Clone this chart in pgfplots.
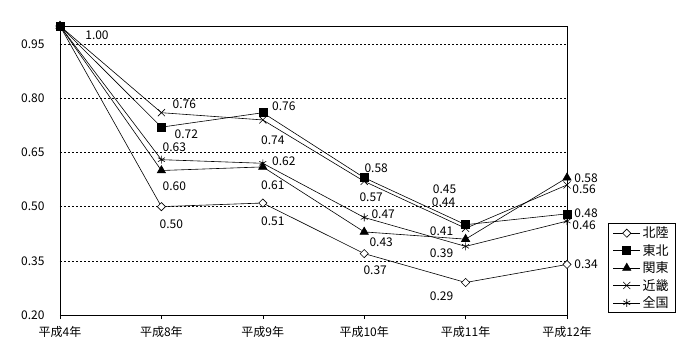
\documentclass[border=0pt]{standalone}
\usepackage{fontspec}
\setmainfont{Noto Sans CJK JP}
\usepackage{pgfplots}
\pgfplotsset{compat=1.18}
\newcommand{\lbl}[5]{\node[inner sep=0pt] at (axis cs:#1,#2) [xshift=#3pt,yshift=#4pt] {#5};}
\begin{document}
\begin{tikzpicture}[x=1pt,y=1pt,font=\fontsize{12pt}{14pt}\selectfont]
\useasboundingbox (-60,-45) rectangle (640,315);
\begin{axis}[
 scale only axis, width=507pt, height=289pt,
 at={(0,0)}, anchor=south west, clip=false,
 xmin=0, xmax=5, ymin=0.2, ymax=1.0,
 xtick={0,...,5},
 xticklabels={平成4年,平成8年,平成9年,平成10年,平成11年,平成12年},
 ytick={0.2,0.35,0.5,0.65,0.8,0.95},
 yticklabel style={/pgf/number format/fixed, /pgf/number format/fixed zerofill, /pgf/number format/precision=2, xshift=-8pt},
 /pgf/number format/assume math mode=true,
 ytick style={draw=none},
 xtick pos=bottom, ytick pos=left,
 tick align=outside, major tick length=4pt,
 xtick style={black, line width=0.6pt},
 ymajorgrids, grid style={black, dash pattern=on 2pt off 2pt, line width=0.6pt},
 axis line style={black, line width=0.8pt},
 xticklabel style={yshift=-4pt},
 every axis plot/.append style={black, line width=0.6pt},
 legend style={at={(1.081,0.318)}, anchor=north west, draw=black, line width=0.8pt,
   font=\fontsize{13pt}{15pt}\selectfont, row sep=2pt, inner xsep=4.5pt, inner ysep=2pt,
   nodes={inner xsep=2pt, inner ysep=1.5pt}},
 legend cell align=left,
 legend image code/.code={\draw[mark repeat=2,mark phase=2] plot coordinates {(0pt,0pt) (13.5pt,0pt) (27pt,0pt)};},
]
\addplot[mark=square*, mark size=2.9pt, mark options={rotate=45, fill=white, line width=0.6pt}] coordinates {(0,1.00) (1,0.50) (2,0.51) (3,0.37) (4,0.29) (5,0.34)};
\addlegendentry{北陸}
\addplot[mark=square*, mark size=4pt, mark options={fill=black}] coordinates {(0,1.00) (1,0.72) (2,0.76) (3,0.58) (4,0.45) (5,0.48)};
\addlegendentry{東北}
\addplot[mark=triangle*, mark size=4.8pt, mark options={fill=black}] coordinates {(0,1.00) (1,0.60) (2,0.61) (3,0.43) (4,0.41) (5,0.58)};
\addlegendentry{関東}
\addplot[mark=x, mark size=5pt] coordinates {(0,1.00) (1,0.76) (2,0.74) (3,0.57) (4,0.44) (5,0.56)};
\addlegendentry{近畿}
\addplot[mark=asterisk, mark size=4pt] coordinates {(0,1.00) (1,0.63) (2,0.62) (3,0.47) (4,0.39) (5,0.46)};
\addlegendentry{全国}
\lbl{0}{1.00}{37}{-9}{1.00}
\lbl{1}{0.76}{23}{8}{0.76}
\lbl{1}{0.72}{25}{-7}{0.72}
\lbl{1}{0.63}{13}{12}{0.63}
\lbl{1}{0.60}{13}{-16}{0.60}
\lbl{1}{0.50}{10}{-18}{0.50}
\lbl{2}{0.76}{21}{6}{0.76}
\lbl{2}{0.74}{10}{-20}{0.74}
\lbl{2}{0.62}{21}{2}{0.62}
\lbl{2}{0.61}{10}{-18}{0.61}
\lbl{2}{0.51}{10}{-18}{0.51}
\lbl{3}{0.58}{12}{10}{0.58}
\lbl{3}{0.57}{7}{-16}{0.57}
\lbl{3}{0.47}{19}{3}{0.47}
\lbl{3}{0.43}{17}{-10}{0.43}
\lbl{3}{0.37}{11}{-17}{0.37}
\lbl{4}{0.45}{-21}{35}{0.45}
\lbl{4}{0.44}{-22}{26}{0.44}
\lbl{4}{0.41}{-24}{8}{0.41}
\lbl{4}{0.39}{-24}{-7}{0.39}
\lbl{4}{0.29}{-24}{-14}{0.29}
\lbl{5}{0.58}{19}{0}{0.58}
\lbl{5}{0.56}{17}{-4}{0.56}
\lbl{5}{0.48}{19}{1}{0.48}
\lbl{5}{0.46}{17}{-4}{0.46}
\lbl{5}{0.34}{19}{0}{0.34}
\end{axis}
\end{tikzpicture}
\end{document}
